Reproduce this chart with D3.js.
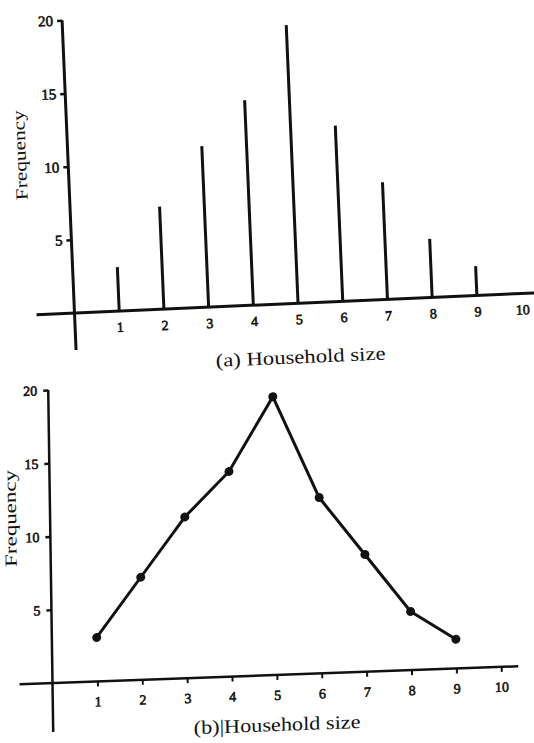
<!DOCTYPE html>
<html lang="en">
<head>
<meta charset="utf-8">
<title>Household size</title>
<script src="https://cdn.jsdelivr.net/npm/d3@7"></script>
<style>
  body { margin: 0; background: #fff; }
  svg { display: block; }
  text { font-family: "Liberation Serif", "DejaVu Serif", serif; fill: #111; }
  .tick text { stroke: #111; stroke-width: 0.6; }
</style>
</head>
<body>
<svg id="chart" width="534" height="743"></svg>
<script>
// household size (categories) and how many households have it
const sizes = [1, 2, 3, 4, 5, 6, 7, 8, 9];
const freq = [3, 7, 11, 14, 19, 12, 8, 4, 2];
const xTicks = [1, 2, 3, 4, 5, 6, 7, 8, 9, 10];
const yTicks = [5, 10, 15, 20];

const svg = d3.select("#chart");

// the scan is a bit crooked, so each panel gets its own slanted frame
function panel(matrix, unitX) {
  const g = svg.append("g").attr("transform", "matrix(" + matrix.join(",") + ")");
  const x = d3.scaleLinear().domain([0, 10]).range([0, unitX * 10]);
  const y = d3.scaleLinear().domain([0, 20]).range([0, -293]);
  return { g, x, y };
}

// (a) line chart of spikes
const a = panel([0.99905, -0.0436, 0.0424, 0.9991, 74.5, 313], 44.75);

a.g.append("line").attr("x1", -38).attr("x2", 470).attr("y1", 0).attr("y2", 0)
  .attr("stroke", "#111").attr("stroke-width", 3);
a.g.append("line").attr("x1", 0).attr("x2", 0).attr("y1", a.y(20)).attr("y2", 37)
  .attr("stroke", "#111").attr("stroke-width", 3);

a.g.append("g")
  .attr("font-family", null)
  .call(d3.axisLeft(a.y).tickValues(yTicks).tickSize(5).tickPadding(4))
  .call(g => g.select(".domain").remove())
  .call(g => g.selectAll("line").attr("stroke", "#111").attr("stroke-width", 2.5))
  .call(g => g.selectAll("text").attr("font-size", 15));

a.g.append("g")
  .call(d3.axisBottom(a.x).tickValues(xTicks).tickSize(0).tickPadding(11))
  .call(g => g.select(".domain").remove())
  .call(g => g.selectAll("text").attr("font-size", 14));

a.g.selectAll(".bar")
  .data(sizes)
  .enter()
  .append("line")
  .attr("class", "bar")
  .attr("x1", d => a.x(d)).attr("x2", d => a.x(d))
  .attr("y1", 0).attr("y2", (d, i) => a.y(freq[i]))
  .attr("stroke", "#111").attr("stroke-width", 3);

a.g.append("text")
  .attr("transform", "translate(-42,-160) rotate(-90)")
  .attr("text-anchor", "middle")
  .attr("font-size", 17)
  .attr("textLength", 90).attr("lengthAdjust", "spacingAndGlyphs")
  .text("Frequency");

a.g.append("text")
  .attr("x", 224).attr("y", 60)
  .attr("text-anchor", "middle")
  .attr("font-size", 19)
  .attr("textLength", 170).attr("lengthAdjust", "spacingAndGlyphs")
  .text("(a) Household size");

// (b) frequency polygon
const b = panel([0.99936, -0.0358, 0.0146, 0.9999, 52.5, 683], 44.9);

b.g.append("line").attr("x1", -33).attr("x2", 466).attr("y1", 0).attr("y2", 0)
  .attr("stroke", "#111").attr("stroke-width", 2.5);
b.g.append("line").attr("x1", 0).attr("x2", 0).attr("y1", b.y(20)).attr("y2", 49)
  .attr("stroke", "#111").attr("stroke-width", 2.5);

b.g.append("g")
  .call(d3.axisLeft(b.y).tickValues(yTicks).tickSize(5).tickPadding(6))
  .call(g => g.select(".domain").remove())
  .call(g => g.selectAll("line").attr("stroke", "#111").attr("stroke-width", 2.5))
  .call(g => g.selectAll("text").attr("font-size", 14));

b.g.append("g")
  .call(d3.axisBottom(b.x).tickValues(xTicks).tickSize(5).tickPadding(10))
  .call(g => g.select(".domain").remove())
  .call(g => g.selectAll("line").attr("stroke", "#111").attr("stroke-width", 2))
  .call(g => g.selectAll("text").attr("font-size", 14));

const line = d3.line()
  .x(d => b.x(d))
  .y((d, i) => b.y(freq[i]));

b.g.append("path")
  .datum(sizes)
  .attr("d", line)
  .attr("fill", "none")
  .attr("stroke", "#111").attr("stroke-width", 3)
  .attr("stroke-linejoin", "round");

b.g.selectAll(".dot")
  .data(sizes)
  .enter()
  .append("circle")
  .attr("class", "dot")
  .attr("cx", d => b.x(d))
  .attr("cy", (d, i) => b.y(freq[i]))
  .attr("r", 4.5)
  .attr("fill", "#111");

b.g.append("text")
  .attr("transform", "translate(-34,-166) rotate(-90)")
  .attr("text-anchor", "middle")
  .attr("font-size", 17)
  .attr("textLength", 97).attr("lengthAdjust", "spacingAndGlyphs")
  .text("Frequency");

b.g.append("text")
  .attr("x", 224).attr("y", 56)
  .attr("text-anchor", "middle")
  .attr("font-size", 19)
  .attr("textLength", 167).attr("lengthAdjust", "spacingAndGlyphs")
  .text("(b)|Household size");
</script>
</body>
</html>
